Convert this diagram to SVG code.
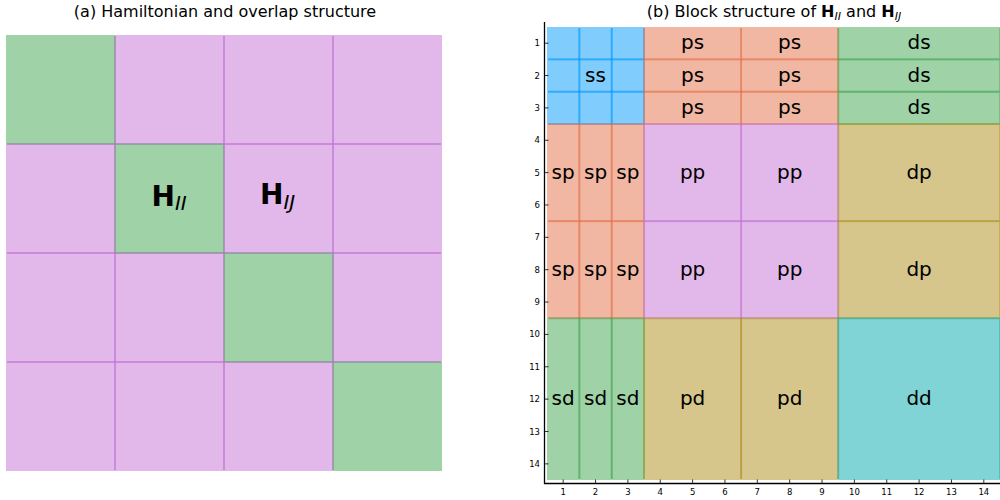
<svg xmlns="http://www.w3.org/2000/svg" width="1000" height="500" viewBox="0 0 1000 500">
  <style>
    text { font-family: "DejaVu Sans", "Liberation Sans", sans-serif; fill: #000; }
    .title { font-size: 16px; text-anchor: middle; }
    .lbl { font-size: 20px; text-anchor: middle; }
    .big { font-size: 28px; font-weight: bold; }
    .sub { font-size: 20px; font-style: italic; font-weight: normal; }
    .tsub { font-size: 11px; font-style: italic; font-weight: normal; }
    .bold { font-weight: bold; }
    .tick { font-size: 8.5px; }
    .ytick { text-anchor: end; }
    .xtick { text-anchor: middle; }
    .f-blue { fill: #80CDFD; }
    .f-salmon { fill: #F1B7A3; }
    .f-green { fill: #9FD2A7; }
    .f-pink { fill: #E1B8E9; }
    .f-tan { fill: #D6C68C; }
    .f-teal { fill: #80D4D6; }
    .edge { fill: none; stroke-width: 1.8; stroke-opacity: 0.45; }
    .s-blue { stroke: #009AFA; }
    .s-salmon { stroke: #E36F47; }
    .s-green { stroke: #3EA44E; }
    .s-pink { stroke: #C271D2; }
    .s-tan { stroke: #AC8D18; }
    .s-teal { stroke: #00A9AD; }
    .axis { stroke: #000; stroke-width: 1.3; fill: none; }
    .tk { stroke: #000; stroke-width: 0.8; }
  </style>
  <defs>
    <clipPath id="clip-a"><rect x="7" y="36" width="434" height="434"/></clipPath>
    <clipPath id="clip-b"><rect x="548" y="28" width="452" height="451"/></clipPath>
  </defs>

  <rect width="1000" height="500" fill="#fff"/>

  <!-- Panel (a): atom-block layout of the Hamiltonian / overlap matrix -->
  <text class="title" x="225" y="17">(a) Hamiltonian and overlap structure</text>
  <g id="panel-a">
    <g id="a-diagonal-blocks" class="f-green">
      <rect x="6" y="35" width="109" height="109"/>
      <rect x="115" y="144" width="109" height="109"/>
      <rect x="224" y="253" width="109" height="109"/>
      <rect x="333" y="362" width="109" height="109"/>
    </g>
    <g id="a-offdiagonal-blocks" class="f-pink">
      <rect x="115" y="35" width="109" height="109"/>
      <rect x="224" y="35" width="109" height="109"/>
      <rect x="333" y="35" width="109" height="109"/>
      <rect x="6" y="144" width="109" height="109"/>
      <rect x="224" y="144" width="109" height="109"/>
      <rect x="333" y="144" width="109" height="109"/>
      <rect x="6" y="253" width="109" height="109"/>
      <rect x="115" y="253" width="109" height="109"/>
      <rect x="333" y="253" width="109" height="109"/>
      <rect x="6" y="362" width="109" height="109"/>
      <rect x="115" y="362" width="109" height="109"/>
      <rect x="224" y="362" width="109" height="109"/>
    </g>
    <g id="a-borders" clip-path="url(#clip-a)">
      <g class="edge s-green">
        <rect x="6" y="35" width="109" height="109"/>
        <rect x="115" y="144" width="109" height="109"/>
        <rect x="224" y="253" width="109" height="109"/>
        <rect x="333" y="362" width="109" height="109"/>
      </g>
      <g class="edge s-pink">
        <rect x="115" y="35" width="109" height="109"/>
        <rect x="224" y="35" width="109" height="109"/>
        <rect x="333" y="35" width="109" height="109"/>
        <rect x="6" y="144" width="109" height="109"/>
        <rect x="224" y="144" width="109" height="109"/>
        <rect x="333" y="144" width="109" height="109"/>
        <rect x="6" y="253" width="109" height="109"/>
        <rect x="115" y="253" width="109" height="109"/>
        <rect x="333" y="253" width="109" height="109"/>
        <rect x="6" y="362" width="109" height="109"/>
        <rect x="115" y="362" width="109" height="109"/>
        <rect x="224" y="362" width="109" height="109"/>
      </g>
    </g>
    <g id="block-HII">
      <text class="big" x="151.5" y="206">H<tspan class="sub" dy="4">II</tspan></text>
    </g>
    <g id="block-HIJ">
      <text class="big" x="260" y="204">H<tspan class="sub" dy="5">IJ</tspan></text>
    </g>
  </g>

  <!-- Panel (b): orbital sub-blocks (s, p, d) of one atom pair -->
  <text class="title" x="774" y="17">(b) Block structure of <tspan class="bold">H</tspan><tspan class="tsub" dy="3">II</tspan><tspan dy="-3"> and </tspan><tspan class="bold">H</tspan><tspan class="tsub" dy="3">IJ</tspan></text>
  <g id="panel-b">
    <g id="block-ss" class="f-blue">
      <rect x="547" y="27" width="32.36" height="32.36"/>
      <rect x="579.36" y="27" width="32.36" height="32.36"/>
      <rect x="611.71" y="27" width="32.36" height="32.36"/>
      <rect x="547" y="59.36" width="32.36" height="32.36"/>
      <rect x="579.36" y="59.36" width="32.36" height="32.36"/>
      <rect x="611.71" y="59.36" width="32.36" height="32.36"/>
      <rect x="547" y="91.72" width="32.36" height="32.36"/>
      <rect x="579.36" y="91.72" width="32.36" height="32.36"/>
      <rect x="611.71" y="91.72" width="32.36" height="32.36"/>
    </g>
    <g id="block-ps" class="f-salmon">
      <rect x="644.07" y="27" width="97.07" height="32.36"/>
      <rect x="741.14" y="27" width="97.07" height="32.36"/>
      <rect x="644.07" y="59.36" width="97.07" height="32.36"/>
      <rect x="741.14" y="59.36" width="97.07" height="32.36"/>
      <rect x="644.07" y="91.72" width="97.07" height="32.36"/>
      <rect x="741.14" y="91.72" width="97.07" height="32.36"/>
    </g>
    <g id="block-ds" class="f-green">
      <rect x="838.21" y="27" width="161.79" height="32.36"/>
      <rect x="838.21" y="59.36" width="161.79" height="32.36"/>
      <rect x="838.21" y="91.72" width="161.79" height="32.36"/>
    </g>
    <g id="block-sp" class="f-salmon">
      <rect x="547" y="124.08" width="32.36" height="97.08"/>
      <rect x="579.36" y="124.08" width="32.36" height="97.08"/>
      <rect x="611.71" y="124.08" width="32.36" height="97.08"/>
      <rect x="547" y="221.16" width="32.36" height="97.08"/>
      <rect x="579.36" y="221.16" width="32.36" height="97.08"/>
      <rect x="611.71" y="221.16" width="32.36" height="97.08"/>
    </g>
    <g id="block-pp" class="f-pink">
      <rect x="644.07" y="124.08" width="97.07" height="97.08"/>
      <rect x="741.14" y="124.08" width="97.07" height="97.08"/>
      <rect x="644.07" y="221.16" width="97.07" height="97.08"/>
      <rect x="741.14" y="221.16" width="97.07" height="97.08"/>
    </g>
    <g id="block-dp" class="f-tan">
      <rect x="838.21" y="124.08" width="161.79" height="97.08"/>
      <rect x="838.21" y="221.16" width="161.79" height="97.08"/>
    </g>
    <g id="block-sd" class="f-green">
      <rect x="547" y="318.24" width="32.36" height="161.8"/>
      <rect x="579.36" y="318.24" width="32.36" height="161.8"/>
      <rect x="611.71" y="318.24" width="32.36" height="161.8"/>
    </g>
    <g id="block-pd" class="f-tan">
      <rect x="644.07" y="318.24" width="97.07" height="161.8"/>
      <rect x="741.14" y="318.24" width="97.07" height="161.8"/>
    </g>
    <g id="block-dd" class="f-teal">
      <rect x="838.21" y="318.24" width="161.79" height="161.8"/>
    </g>

    <!-- sub-block outlines, drawn after all fills -->
    <g id="b-borders" clip-path="url(#clip-b)">
      <g class="edge s-blue">
        <rect x="547" y="27" width="32.36" height="32.36"/>
        <rect x="579.36" y="27" width="32.36" height="32.36"/>
        <rect x="611.71" y="27" width="32.36" height="32.36"/>
        <rect x="547" y="59.36" width="32.36" height="32.36"/>
        <rect x="579.36" y="59.36" width="32.36" height="32.36"/>
        <rect x="611.71" y="59.36" width="32.36" height="32.36"/>
        <rect x="547" y="91.72" width="32.36" height="32.36"/>
        <rect x="579.36" y="91.72" width="32.36" height="32.36"/>
        <rect x="611.71" y="91.72" width="32.36" height="32.36"/>
      </g>
      <g class="edge s-salmon">
        <rect x="644.07" y="27" width="97.07" height="32.36"/>
        <rect x="741.14" y="27" width="97.07" height="32.36"/>
        <rect x="644.07" y="59.36" width="97.07" height="32.36"/>
        <rect x="741.14" y="59.36" width="97.07" height="32.36"/>
        <rect x="644.07" y="91.72" width="97.07" height="32.36"/>
        <rect x="741.14" y="91.72" width="97.07" height="32.36"/>
        <rect x="547" y="124.08" width="32.36" height="97.08"/>
        <rect x="579.36" y="124.08" width="32.36" height="97.08"/>
        <rect x="611.71" y="124.08" width="32.36" height="97.08"/>
        <rect x="547" y="221.16" width="32.36" height="97.08"/>
        <rect x="579.36" y="221.16" width="32.36" height="97.08"/>
        <rect x="611.71" y="221.16" width="32.36" height="97.08"/>
      </g>
      <g class="edge s-green">
        <rect x="838.21" y="27" width="161.79" height="32.36"/>
        <rect x="838.21" y="59.36" width="161.79" height="32.36"/>
        <rect x="838.21" y="91.72" width="161.79" height="32.36"/>
        <rect x="547" y="318.24" width="32.36" height="161.8"/>
        <rect x="579.36" y="318.24" width="32.36" height="161.8"/>
        <rect x="611.71" y="318.24" width="32.36" height="161.8"/>
      </g>
      <g class="edge s-pink">
        <rect x="644.07" y="124.08" width="97.07" height="97.08"/>
        <rect x="741.14" y="124.08" width="97.07" height="97.08"/>
        <rect x="644.07" y="221.16" width="97.07" height="97.08"/>
        <rect x="741.14" y="221.16" width="97.07" height="97.08"/>
      </g>
      <g class="edge s-tan">
        <rect x="838.21" y="124.08" width="161.79" height="97.08"/>
        <rect x="838.21" y="221.16" width="161.79" height="97.08"/>
        <rect x="644.07" y="318.24" width="97.07" height="161.8"/>
        <rect x="741.14" y="318.24" width="97.07" height="161.8"/>
      </g>
      <g class="edge s-teal">
        <rect x="838.21" y="318.24" width="161.79" height="161.8"/>
      </g>
    </g>

    <!-- block labels -->
    <g id="b-labels" class="lbl">
      <text class="lbl" x="595.54" y="81.5">ss</text>
      <text class="lbl" x="692.61" y="49.2">ps</text>
      <text class="lbl" x="789.68" y="49.2">ps</text>
      <text class="lbl" x="692.61" y="81.5">ps</text>
      <text class="lbl" x="789.68" y="81.5">ps</text>
      <text class="lbl" x="692.61" y="113.9">ps</text>
      <text class="lbl" x="789.68" y="113.9">ps</text>
      <text class="lbl" x="919.11" y="49.2">ds</text>
      <text class="lbl" x="919.11" y="81.5">ds</text>
      <text class="lbl" x="919.11" y="113.9">ds</text>
      <text class="lbl" x="563.18" y="178.6">sp</text>
      <text class="lbl" x="595.54" y="178.6">sp</text>
      <text class="lbl" x="627.89" y="178.6">sp</text>
      <text class="lbl" x="563.18" y="275.7">sp</text>
      <text class="lbl" x="595.54" y="275.7">sp</text>
      <text class="lbl" x="627.89" y="275.7">sp</text>
      <text class="lbl" x="692.61" y="178.6">pp</text>
      <text class="lbl" x="789.68" y="178.6">pp</text>
      <text class="lbl" x="692.61" y="275.7">pp</text>
      <text class="lbl" x="789.68" y="275.7">pp</text>
      <text class="lbl" x="919.11" y="178.6">dp</text>
      <text class="lbl" x="919.11" y="275.7">dp</text>
      <text class="lbl" x="563.18" y="405.1">sd</text>
      <text class="lbl" x="595.54" y="405.1">sd</text>
      <text class="lbl" x="627.89" y="405.1">sd</text>
      <text class="lbl" x="692.61" y="405.1">pd</text>
      <text class="lbl" x="789.68" y="405.1">pd</text>
      <text class="lbl" x="919.11" y="405.1">dd</text>
    </g>

    <!-- axes -->
    <g id="b-axes">
      <path class="axis" d="M544.5,22 V483.5 H1000"/>
      <path class="tk" d="M544.5,43.18h4 M544.5,75.54h4 M544.5,107.9h4 M544.5,140.26h4 M544.5,172.62h4 M544.5,204.98h4 M544.5,237.34h4 M544.5,269.7h4 M544.5,302.06h4 M544.5,334.42h4 M544.5,366.78h4 M544.5,399.14h4 M544.5,431.5h4 M544.5,463.86h4"/>
      <path class="tk" d="M563.18,483.5v-4 M595.54,483.5v-4 M627.89,483.5v-4 M660.25,483.5v-4 M692.61,483.5v-4 M724.96,483.5v-4 M757.32,483.5v-4 M789.68,483.5v-4 M822.04,483.5v-4 M854.39,483.5v-4 M886.75,483.5v-4 M919.11,483.5v-4 M951.46,483.5v-4 M983.82,483.5v-4"/>
      <g class="tick ytick">
        <text class="tick ytick" x="540" y="46.2">1</text>
        <text class="tick ytick" x="540" y="78.5">2</text>
        <text class="tick ytick" x="540" y="110.9">3</text>
        <text class="tick ytick" x="540" y="143.3">4</text>
        <text class="tick ytick" x="540" y="175.6">5</text>
        <text class="tick ytick" x="540" y="208">6</text>
        <text class="tick ytick" x="540" y="240.3">7</text>
        <text class="tick ytick" x="540" y="272.7">8</text>
        <text class="tick ytick" x="540" y="305.1">9</text>
        <text class="tick ytick" x="540" y="337.4">10</text>
        <text class="tick ytick" x="540" y="369.8">11</text>
        <text class="tick ytick" x="540" y="402.1">12</text>
        <text class="tick ytick" x="540" y="434.5">13</text>
        <text class="tick ytick" x="540" y="466.9">14</text>
      </g>
      <g class="tick xtick">
        <text class="tick xtick" x="563.18" y="494.5">1</text>
        <text class="tick xtick" x="595.54" y="494.5">2</text>
        <text class="tick xtick" x="627.89" y="494.5">3</text>
        <text class="tick xtick" x="660.25" y="494.5">4</text>
        <text class="tick xtick" x="692.61" y="494.5">5</text>
        <text class="tick xtick" x="724.96" y="494.5">6</text>
        <text class="tick xtick" x="757.32" y="494.5">7</text>
        <text class="tick xtick" x="789.68" y="494.5">8</text>
        <text class="tick xtick" x="822.04" y="494.5">9</text>
        <text class="tick xtick" x="854.39" y="494.5">10</text>
        <text class="tick xtick" x="886.75" y="494.5">11</text>
        <text class="tick xtick" x="919.11" y="494.5">12</text>
        <text class="tick xtick" x="951.46" y="494.5">13</text>
        <text class="tick xtick" x="983.82" y="494.5">14</text>
      </g>
    </g>
  </g>
</svg>
